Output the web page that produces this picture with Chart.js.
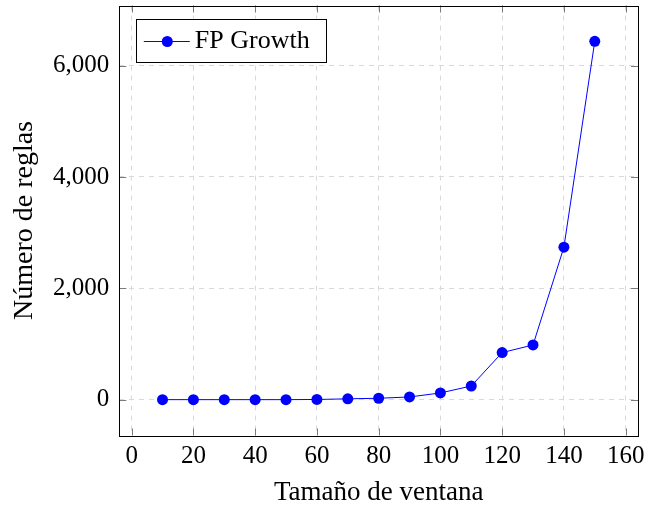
<!DOCTYPE html>
<html>
<head>
<meta charset="utf-8">
<script src="https://cdn.jsdelivr.net/npm/chart.js@4"></script>
<style>
  html, body { margin: 0; padding: 0; background: #fff; }
  #wrap { width: 649px; height: 510px; }
</style>
</head>
<body>
<div id="wrap"><canvas id="rules"></canvas></div>
<script>
/* Número de reglas vs tamaño de ventana (FP Growth) */

const windowSizes = [10, 20, 30, 40, 50, 60, 70, 80, 90, 100, 110, 120, 130, 140, 150];
const ruleCounts  = [0, 0, 0, 0, 0, 3, 15, 25, 48, 120, 245, 845, 982, 2738, 6436];
const xTicks      = [0, 20, 40, 60, 80, 100, 120, 140, 160];
const yTicks      = [0, 2000, 4000, 6000];
const seriesLabel = 'FP Growth';
const xTitle      = 'Tamaño de ventana';
const yTitle      = 'Número de reglas';

const SERIF = '"Liberation Serif", "DejaVu Serif", serif';
const BLUE  = '#0000ff';

// frame + short inward tick marks on all four sides
const framePlugin = {
  id: 'frame',
  afterDraw(chart) {
    const { ctx, chartArea: a, scales } = chart;
    ctx.save();
    ctx.strokeStyle = '#7a7a7a';
    ctx.lineWidth = 1;
    const len = 7;
    scales.x.ticks.forEach(t => {
      const px = Math.round(scales.x.getPixelForValue(t.value)) + 0.5;
      ctx.beginPath();
      ctx.moveTo(px, a.bottom); ctx.lineTo(px, a.bottom - len);
      ctx.moveTo(px, a.top);    ctx.lineTo(px, a.top + len);
      ctx.stroke();
    });
    scales.y.ticks.forEach(t => {
      const py = Math.round(scales.y.getPixelForValue(t.value)) + 0.5;
      ctx.beginPath();
      ctx.moveTo(a.left, py);  ctx.lineTo(a.left + len, py);
      ctx.moveTo(a.right, py); ctx.lineTo(a.right - len, py);
      ctx.stroke();
    });
    ctx.strokeStyle = '#000';
    ctx.strokeRect(Math.round(a.left) + 0.5, Math.round(a.top) + 0.5,
                   Math.round(a.right - a.left), Math.round(a.bottom - a.top));
    ctx.restore();
  }
};

// pgfplots-style legend box: line with marker, then the label
const legendPlugin = {
  id: 'boxLegend',
  afterDraw(chart) {
    const { ctx, chartArea: a } = chart;
    const x = a.left + 16.5, y = a.top + 13.5, w = 190, h = 43;
    ctx.save();
    ctx.fillStyle = '#fff';
    ctx.fillRect(x, y, w, h);
    ctx.strokeStyle = '#000';
    ctx.lineWidth = 1;
    ctx.strokeRect(Math.round(x) + 0.5, Math.round(y) + 0.5, w, h);

    const my = y + 22.5;
    ctx.strokeStyle = BLUE;
    ctx.beginPath();
    ctx.moveTo(x + 8, my); ctx.lineTo(x + 54, my);
    ctx.stroke();
    ctx.fillStyle = BLUE;
    ctx.beginPath();
    ctx.arc(x + 31.5, my, 5.5, 0, Math.PI * 2);
    ctx.fill();

    ctx.fillStyle = '#000';
    ctx.font = '26px ' + SERIF;
    ctx.textBaseline = 'alphabetic';
    ctx.fillText(chart.data.datasets[0].label, x + 59, y + 28.5);
    ctx.restore();
  }
};

const fixTicks = list => scale => {
  scale.ticks = list.map(v => ({ value: v }));
};

// fixed axis box sizes; no extra room reserved for edge labels
const fitX = s => {
  s.height = 74.5;
  s.paddingLeft = 0; s.paddingRight = 0;
};
const fitY = s => {
  s.width = 119.3;
  s.paddingTop = 0; s.paddingBottom = 0;
};

new Chart(document.getElementById('rules'), {
  type: 'line',
  data: {
    datasets: [{
      label: seriesLabel,
      data: windowSizes.map((w, i) => ({ x: w, y: ruleCounts[i] })),
      borderColor: BLUE,
      backgroundColor: BLUE,
      borderWidth: 1,
      pointRadius: 5.5,
      pointHoverRadius: 5.5,
      pointBackgroundColor: BLUE,
      pointBorderWidth: 0,
      tension: 0,
      clip: false
    }]
  },
  options: {
    responsive: true,
    maintainAspectRatio: false,
    animation: false,
    events: [],
    layout: { padding: { left: 0, top: 5, right: 11, bottom: 0 } },
    plugins: { legend: { display: false }, tooltip: { enabled: false } },
    scales: {
      x: {
        type: 'linear',
        min: -4, max: 164,
        afterBuildTicks: fixTicks(xTicks),
        afterFit: fitX,
        ticks: {
          padding: 6, maxRotation: 0, autoSkip: false,
          color: '#000', font: { family: SERIF, size: 25 }
        },
        grid: { color: '#d9d9d9', drawTicks: false },
        border: { display: false, dash: [5, 5] },
        title: {
          display: true, text: xTitle, color: '#000',
          font: { family: SERIF, size: 27 },
          padding: { top: 0, bottom: 1 }
        }
      },
      y: {
        type: 'linear',
        min: -644, max: 7080,
        afterBuildTicks: fixTicks(yTicks),
        afterFit: fitY,
        ticks: {
          padding: 10, autoSkip: false,
          color: '#000', font: { family: SERIF, size: 25 },
          callback: v => v.toLocaleString('en-US')
        },
        grid: { color: '#d9d9d9', drawTicks: false },
        border: { display: false, dash: [5, 5] },
        title: {
          display: true, text: yTitle, color: '#000',
          font: { family: SERIF, size: 28 },
          padding: { top: 8, bottom: 0 }
        }
      }
    }
  },
  plugins: [framePlugin, legendPlugin]
});
</script>
</body>
</html>
